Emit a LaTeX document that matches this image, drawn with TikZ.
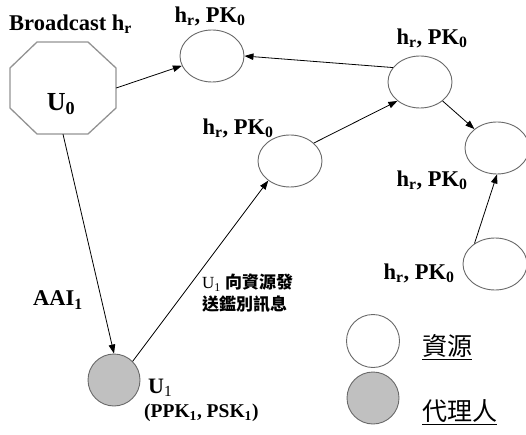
\documentclass[tikz,border=0pt]{standalone}
\usepackage{fontspec}
\setmainfont{Liberation Serif}
\newfontfamily\cjk{Noto Sans CJK TC}
\usetikzlibrary{arrows.meta,shapes.geometric}
\newcommand\lowsub[1]{\textsubscript{#1}}
\definecolor{edgegray}{RGB}{105,105,105}
\definecolor{agentfill}{RGB}{192,192,192}
\tikzset{
  res/.style={ellipse,draw=edgegray,line width=0.9pt,fill=white,minimum width=64pt,minimum height=52pt,inner sep=0pt},
  agent/.style={circle,draw=edgegray,line width=0.9pt,fill=agentfill,minimum size=52pt,inner sep=0pt},
  lbl/.style={font=\fontsize{22.5}{25}\selectfont\bfseries,inner sep=0pt},
  link/.style={draw=black,line width=0.8pt,-{Triangle[length=9pt,width=6.5pt]}},
  octa/.style={draw=gray!85,line width=1.3pt}
}
\begin{document}
\begin{tikzpicture}[x=1pt,y=-1pt]
\useasboundingbox (0,0) rectangle (526,435);

% broadcasting user U0 (octagon)
\node[minimum width=106pt,minimum height=92pt,inner sep=0pt] (u0) at (63,88) {};
\draw[octa] (37,42) -- (88,42) -- (116,68) -- (116,108) -- (88,134)
  -- (37,134) -- (10,108) -- (10,68) -- cycle;
\node[font=\fontsize{26}{29}\selectfont\bfseries,inner sep=0pt] (u0lbl) at (61,104) {U\lowsub{0}};
\node[lbl,anchor=west] (bcast) at (9,24) {Broadcast h\lowsub{r}};

% resources
\node[res] (a) at (212,56) {};
\node[res] (b) at (420,82) {};
\node[res] (c) at (290,161) {};
\node[res] (d) at (497,148) {};
\node[res] (e) at (495,264) {};

\node[lbl] (la) at (210,16) {h\lowsub{r}, PK\lowsub{0}};
\node[lbl] (lb) at (432,38) {h\lowsub{r}, PK\lowsub{0}};
\node[lbl] (lc) at (238,128) {h\lowsub{r}, PK\lowsub{0}};
\node[lbl] (ld) at (432,180) {h\lowsub{r}, PK\lowsub{0}};
\node[lbl] (le) at (419,273) {h\lowsub{r}, PK\lowsub{0}};

% agent U1
\node[agent] (u1) at (114,380) {};
\node[font=\fontsize{22}{24}\selectfont\bfseries,inner sep=0pt,anchor=west] (u1lbl) at (148,388) {U\lowsub{\mdseries 1}};
\node[font=\fontsize{19.5}{22}\selectfont\bfseries,inner sep=0pt,anchor=west] (u1keys) at (144,413) {(PPK\lowsub{1}, PSK\lowsub{1})};
\node[lbl] (aai) at (58,300) {AAI\lowsub{1}};
\node[inner sep=0pt,anchor=north west,align=left,font=\fontsize{17}{22}\selectfont] (msg) at (202,274)
  {U\lowsub{1} {\cjk\bfseries 向資源發}\\{\cjk\bfseries 送鑑別訊息}};

% connectors
\draw[link] (u0.east) -- (a.198);
\draw[link] (b.152) -- (a.east);
\draw[link] (c.37) -- (b.220);
\draw[link] (b.-40) -- (d.140);
\draw[link] (e.135) -- (d.south);
\draw[link] (u0.south) -- (u1.north);
\draw[link] (u1.45) -- (c.222);

% legend
\node[circle,draw=edgegray,line width=0.9pt,fill=white,minimum size=53pt,inner sep=0pt] (legres) at (373,341) {};
\node[agent] (legagent) at (373,398) {};
\node[inner sep=0pt,anchor=west,font=\fontsize{25}{28}\selectfont\cjk] (legrestxt) at (422,347) {\underline{資源}};
\node[inner sep=0pt,anchor=west,font=\fontsize{25}{28}\selectfont\cjk] (legagenttxt) at (422,412) {\underline{代理人}};
\end{tikzpicture}
\end{document}
